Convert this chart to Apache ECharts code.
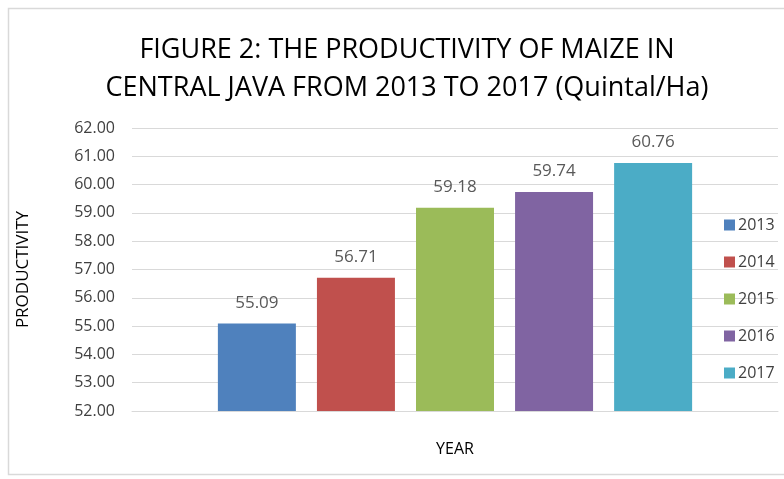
<!DOCTYPE html>
<html>
<head>
<meta charset="utf-8">
<script src="https://cdn.jsdelivr.net/npm/echarts@6/dist/echarts.min.js"></script>
<style>
  html, body { margin: 0; padding: 0; background: #fff; }
  #chart { width: 784px; height: 479px; }
</style>
</head>
<body>
<div id="chart"></div>
<script>
// data
const years = ['2013', '2014', '2015', '2016', '2017']
const productivity = [55.09, 56.71, 59.18, 59.74, 60.76]
const colors = ['#4f81bd', '#c0504d', '#9bbb59', '#8064a2', '#4bacc6']
const categories = ['']

const font = '"Open Sans", sans-serif'

const chart = echarts.init(document.getElementById('chart'))

const series = years.map((y, i) => ({
  name: y,
  type: 'bar',
  data: [productivity[i]],
  barWidth: 78,
  barGap: '27%',
  itemStyle: { color: colors[i] },
  label: {
    show: true,
    position: 'top',
    distance: 12,
    formatter: p => p.value.toFixed(2),
    color: '#595959',
    fontSize: 17,
    fontFamily: font
  }
}))

chart.setOption({
  animation: false,
  textStyle: { fontFamily: font },
  title: {
    text: 'FIGURE 2: THE PRODUCTIVITY OF MAIZE IN\nCENTRAL JAVA FROM 2013 TO 2017 (Quintal/Ha)',
    left: 402,
    textAlign: 'center',
    top: 26,
    textStyle: {
      fontSize: 27,
      fontWeight: 'normal',
      color: '#000',
      lineHeight: 38,
      fontFamily: font
    }
  },
  graphic: [{
    type: 'rect',
    shape: { x: 8.5, y: 8.5, width: 800, height: 466 },
    style: { fill: 'none', stroke: '#d9d9d9', lineWidth: 1.5 },
    silent: true
  }],
  legend: {
    orient: 'vertical',
    left: 719,
    top: 212,
    itemWidth: 11,
    itemHeight: 11,
    itemGap: 21,
    icon: 'rect',
    data: years,
    textStyle: { fontSize: 16, color: '#404040', padding: [0, 0, 0, -2] }
  },
  grid: {
    left: 132,
    right: 6,
    top: 128,
    bottom: 68
  },
  xAxis: {
    type: 'category',
    data: categories,
    name: 'YEAR',
    nameLocation: 'middle',
    nameGap: 30,
    nameTextStyle: { fontSize: 16, color: '#000' },
    axisLine: { lineStyle: { color: '#d9d9d9' } },
    axisTick: { show: false },
    axisLabel: { show: false }
  },
  yAxis: {
    type: 'value',
    min: 52,
    max: 62,
    interval: 1,
    name: 'PRODUCTIVITY',
    nameLocation: 'middle',
    nameGap: 100,
    nameRotate: 90,
    nameTextStyle: { fontSize: 17, color: '#000' },
    axisLine: { show: false },
    axisTick: { show: false },
    axisLabel: {
      formatter: v => v.toFixed(2),
      fontSize: 16,
      color: '#404040',
      margin: 17
    },
    splitLine: { lineStyle: { color: '#d9d9d9' } }
  },
  series: series
})
</script>
</body>
</html>
